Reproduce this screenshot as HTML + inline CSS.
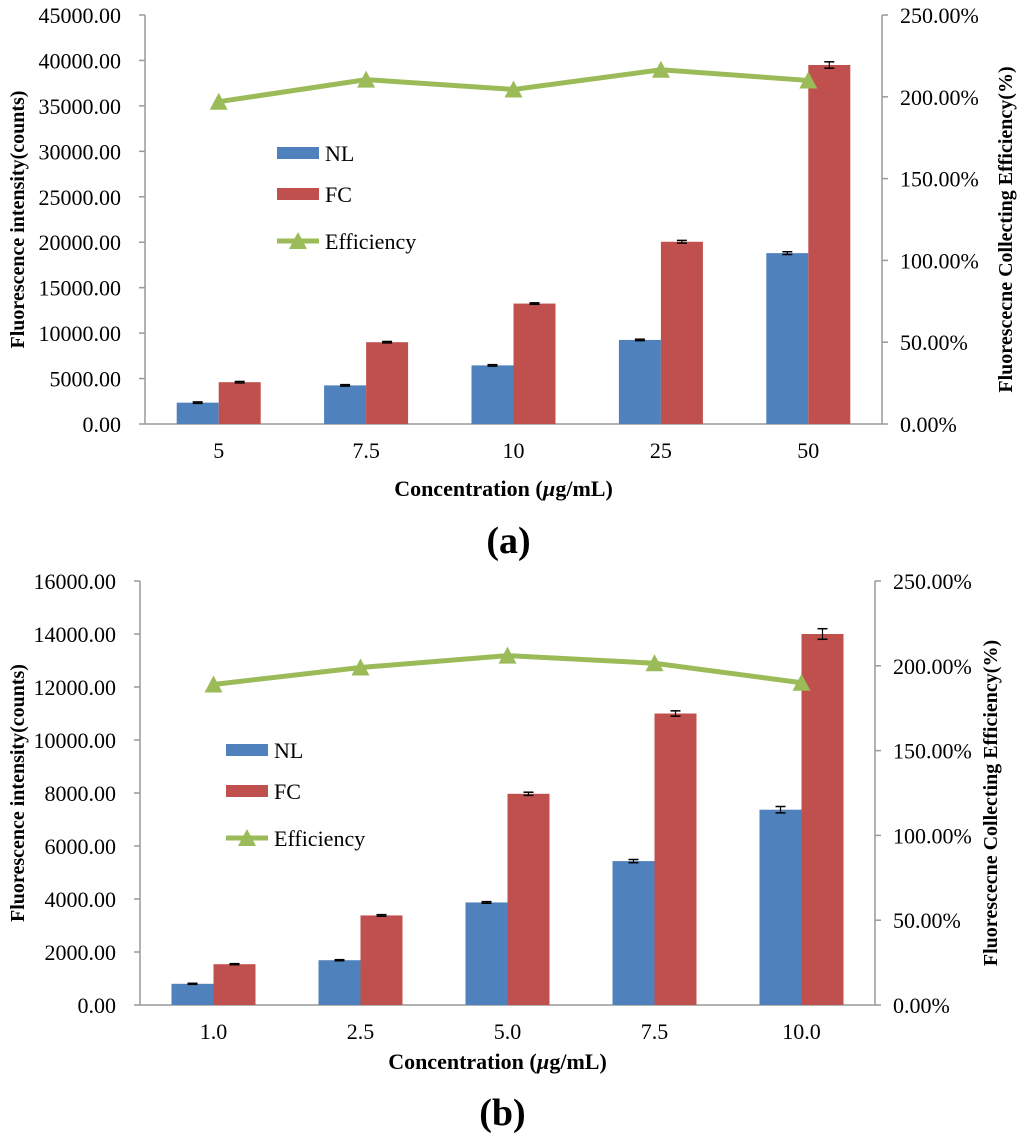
<!DOCTYPE html>
<html><head><meta charset="utf-8"><style>
body{margin:0;background:#fff}
svg text{font-family:"Liberation Serif",serif}
</style></head><body>
<svg id="s" width="1024" height="1139" xmlns="http://www.w3.org/2000/svg"></svg>
<script>
const catsA=["5","7.5","10","25","50"];
const nlA=[2350,4250,6450,9250,18800];
const fcA=[4600,9000,13250,20050,39500];
const nlErrA=[80,80,80,80,150];
const fcErrA=[80,80,80,150,350];
const effA=[197,210.5,204.5,216.5,210];
const ticksA=[0,5000,10000,15000,20000,25000,30000,35000,40000,45000];
const catsB=["1.0","2.5","5.0","7.5","10.0"];
const nlB=[800,1690,3870,5430,7370];
const fcB=[1540,3380,7970,11000,14000];
const nlErrB=[20,20,30,60,120];
const fcErrB=[20,30,60,100,200];
const effB=[189,199,206,201.5,190];
const ticksB=[0,2000,4000,6000,8000,10000,12000,14000,16000];
const pctTicks=[0,50,100,150,200,250];
const NS="http://www.w3.org/2000/svg";
const svg=document.getElementById('s');
function el(t,a,p){const e=document.createElementNS(NS,t);for(const k in a)e.setAttribute(k,a[k]);(p||svg).appendChild(e);return e;}
function chart(o){
 const g=el('g',{});
 
 
 const {L,R,T,B,maxY}=o;
 const FS=22;
 const band=(R-L)/o.cats.length;
 const y=v=>B-(v/maxY)*(B-T);
 const y2=v=>B-(v/250)*(B-T);
 const x=i=>L+band*(i+0.5);
 el('line',{x1:L,y1:T,x2:L,y2:B,stroke:'#999','stroke-width':1.5},g);
 el('line',{x1:R,y1:T,x2:R,y2:B,stroke:'#999','stroke-width':1.5},g);
 el('line',{x1:L,y1:B,x2:R,y2:B,stroke:'#999','stroke-width':1.5},g);
 o.ticks.forEach(t=>{
  el('line',{x1:L-6,y1:y(t),x2:L,y2:y(t),stroke:'#999','stroke-width':1.5},g);
  const tx=el('text',{x:L-24,y:y(t)+8,'text-anchor':'end','font-size':FS},g);
  tx.textContent=t.toFixed(2);
  
  
 });
 pctTicks.forEach(t=>{
  el('line',{x1:R,y1:y2(t),x2:R+6,y2:y2(t),stroke:'#999','stroke-width':1.5},g);
  const tx=el('text',{x:R+18,y:y2(t)+8,'font-size':FS},g);
  tx.textContent=t.toFixed(2)+'%';
  
  
 });
 const bw=o.bw;
 o.cats.forEach((c,i)=>{
  const cx=x(i);
  const b1=el('rect',{x:cx-bw,y:y(o.nl[i]),width:bw,height:B-y(o.nl[i]),fill:'#4f81bd'},g);
  
  
  const b2=el('rect',{x:cx,y:y(o.fc[i]),width:bw,height:B-y(o.fc[i]),fill:'#c0504d'},g);
  
  
  [[cx-bw/2,o.nl[i],o.nlErr[i]],[cx+bw/2,o.fc[i],o.fcErr[i]]].forEach(([ex,v,e])=>{
   el('line',{x1:ex,y1:y(v+e),x2:ex,y2:y(v-e),stroke:'#000','stroke-width':1.2},g);
   el('line',{x1:ex-5,y1:y(v+e),x2:ex+5,y2:y(v+e),stroke:'#000','stroke-width':1.5},g);
   el('line',{x1:ex-5,y1:y(v-e),x2:ex+5,y2:y(v-e),stroke:'#000','stroke-width':1.5},g);
  });
  const t=el('text',{x:cx,y:B+34,'text-anchor':'middle','font-size':FS},g);
  t.textContent=c;
  
  
 });
 const pts=o.eff.map((v,i)=>x(i)+','+y2(v)).join(' ');
 const pl=el('polyline',{points:pts,fill:'none',stroke:'#9bbb59','stroke-width':5},g);
 
 
 o.eff.forEach((v,i)=>{
  const px=x(i),py=y2(v);
  const tr=el('polygon',{points:`${px-9},${py+8} ${px+9},${py+8} ${px},${py-9}`,fill:'#9bbb59'},g);
  
  
 });
 const lx=o.lx,ly=o.ly;
 const lg=el('g',{},g);
 
 
 el('rect',{x:lx,y:ly-6,width:42,height:12,fill:'#4f81bd'},lg);
 el('text',{x:lx+48,y:ly+8,'font-size':FS},lg).textContent='NL';
 el('rect',{x:lx,y:ly+41-6,width:42,height:12,fill:'#c0504d'},lg);
 el('text',{x:lx+48,y:ly+41+8,'font-size':FS},lg).textContent='FC';
 el('line',{x1:lx,y1:ly+88,x2:lx+42,y2:ly+88,stroke:'#9bbb59','stroke-width':5},lg);
 el('polygon',{points:`${lx+12},${ly+96} ${lx+30},${ly+96} ${lx+21},${ly+79}`,fill:'#9bbb59'},lg);
 el('text',{x:lx+48,y:ly+88+8,'font-size':FS},lg).textContent='Efficiency';
 const xt=el('text',{x:(L+R)/2-10,y:B+o.xty,'text-anchor':'middle','font-size':FS,'font-weight':'bold'},g);
 xt.innerHTML='Concentration (<tspan font-style="italic">µ</tspan>g/mL)';
 
 
 const yt=el('text',{transform:`translate(${o.ytx},${(T+B)/2}) rotate(-90)`,'text-anchor':'middle','font-size':20,'font-weight':'bold'},g);
 yt.textContent='Fluorescence intensity(counts)';
 
 
 const yt2=el('text',{transform:`translate(${o.y2tx},${(T+B)/2+10}) rotate(-90)`,'text-anchor':'middle','font-size':20,'font-weight':'bold'},g);
 yt2.textContent='Fluorescecne Collecting Efficiency(%)';
 
 
 const pl2=el('text',{x:(L+R)/2-5,y:o.py,'text-anchor':'middle','font-size':38,'font-weight':'bold'},g);
 pl2.innerHTML='('+o.panel+')';
 
 
}
chart({name:'chart-a',cats:catsA,nl:nlA,fc:fcA,nlErr:nlErrA,fcErr:fcErrA,eff:effA,ticks:ticksA,L:145,R:882,T:15,B:424,maxY:45000,bw:42,lx:277,ly:153,ytx:24,y2tx:1012,panel:'a',py:553,xty:72});
chart({name:'chart-b',cats:catsB,nl:nlB,fc:fcB,nlErr:nlErrB,fcErr:fcErrB,eff:effB,ticks:ticksB,L:140,R:875,T:581,B:1005,maxY:16000,bw:42,lx:226,ly:750,ytx:24,y2tx:997,panel:'b',py:1125,xty:64});
</script>
</body></html>
